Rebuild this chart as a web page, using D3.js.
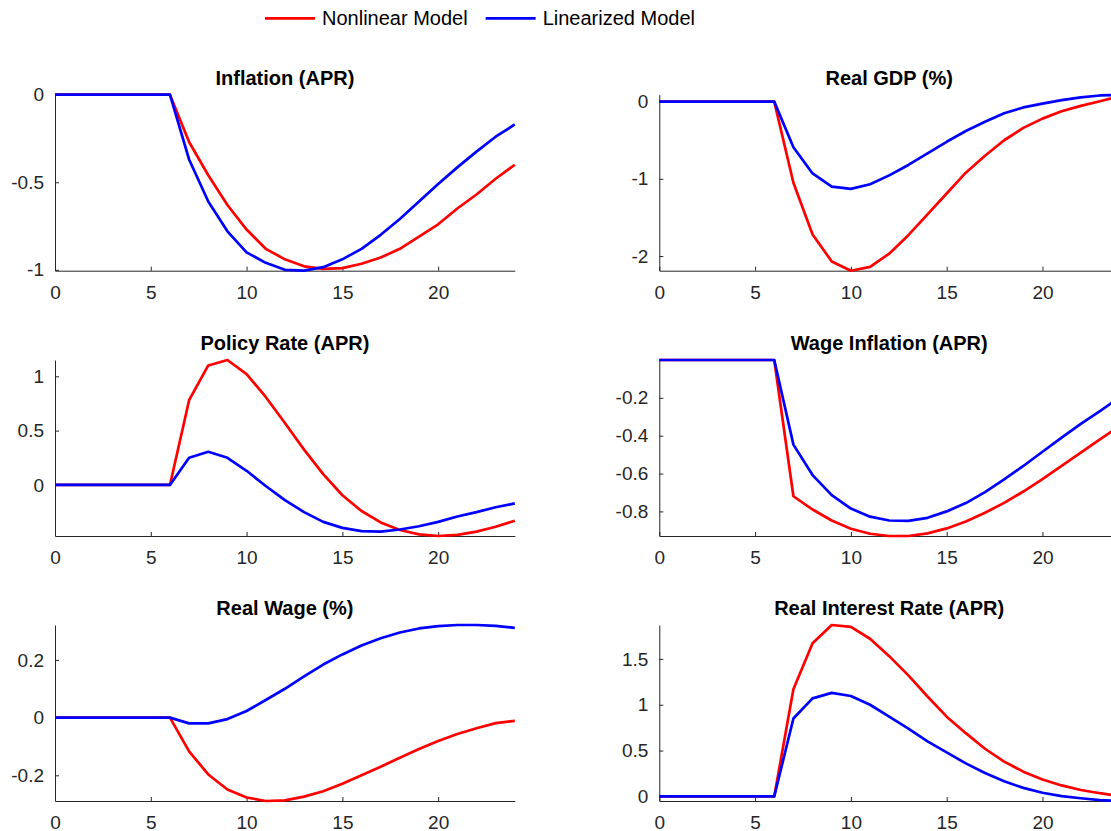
<!DOCTYPE html>
<html>
<head>
<meta charset="utf-8">
<title>Nonlinear vs Linearized Model</title>
<script src="https://cdn.jsdelivr.net/npm/d3@7"></script>
<style>
  html, body { margin: 0; padding: 0; background: #fff; overflow: hidden; }
  svg { display: block; font-family: "Liberation Sans", Arial, Helvetica, sans-serif; }
</style>
</head>
<body>
<svg id="chart" width="1111" height="831"></svg>
<script>
/* ---- data (periods 0..24) ---- */
var periods = [0, 1, 2, 3, 4, 5, 6, 7, 8, 9, 10, 11, 12, 13, 14, 15, 16, 17, 18, 19, 20, 21, 22, 23, 24];
var xTicks = [0, 5, 10, 15, 20];

var seriesNames = ['Nonlinear Model', 'Linearized Model'];
var seriesColors = ['#ff0000', '#0000ff'];

var panelTitles = ['Inflation (APR)', 'Real GDP (%)', 'Policy Rate (APR)',
                   'Wage Inflation (APR)', 'Real Wage (%)', 'Real Interest Rate (APR)'];

var inflationNonlinear = [0, 0, 0, 0, 0, 0, 0, -0.27, -0.46, -0.63, -0.77, -0.88, -0.94, -0.98, -0.995, -0.99, -0.965, -0.93, -0.88, -0.81, -0.74, -0.65, -0.57, -0.48, -0.40];
var inflationLinear    = [0, 0, 0, 0, 0, 0, 0, -0.37, -0.61, -0.78, -0.90, -0.96, -1.0, -1.005, -0.985, -0.94, -0.88, -0.80, -0.71, -0.61, -0.51, -0.415, -0.325, -0.24, -0.17];
var inflationTicks     = [-1, -0.5, 0];

var gdpNonlinear = [0, 0, 0, 0, 0, 0, 0, -1.05, -1.72, -2.07, -2.19, -2.14, -1.97, -1.73, -1.46, -1.19, -0.92, -0.70, -0.50, -0.34, -0.22, -0.125, -0.055, 0.005, 0.07];
var gdpLinear    = [0, 0, 0, 0, 0, 0, 0, -0.59, -0.93, -1.10, -1.13, -1.07, -0.955, -0.82, -0.67, -0.52, -0.38, -0.26, -0.15, -0.075, -0.025, 0.02, 0.055, 0.08, 0.09];
var gdpTicks     = [-2, -1, 0];

var policyNonlinear = [0, 0, 0, 0, 0, 0, 0, 0.78, 1.10, 1.15, 1.02, 0.81, 0.57, 0.325, 0.10, -0.095, -0.24, -0.345, -0.415, -0.455, -0.47, -0.46, -0.43, -0.385, -0.33];
var policyLinear    = [0, 0, 0, 0, 0, 0, 0, 0.25, 0.305, 0.25, 0.13, -0.01, -0.14, -0.25, -0.34, -0.395, -0.425, -0.43, -0.41, -0.38, -0.34, -0.29, -0.25, -0.205, -0.17];
var policyTicks     = [0, 0.5, 1];

var wageInflNonlinear = [0, 0, 0, 0, 0, 0, 0, -0.72, -0.79, -0.848, -0.892, -0.918, -0.93, -0.93, -0.916, -0.89, -0.853, -0.807, -0.755, -0.695, -0.63, -0.56, -0.49, -0.42, -0.35];
var wageInflLinear    = [0, 0, 0, 0, 0, 0, 0, -0.447, -0.608, -0.714, -0.785, -0.828, -0.848, -0.85, -0.834, -0.80, -0.756, -0.698, -0.631, -0.56, -0.485, -0.41, -0.338, -0.27, -0.20];
var wageInflTicks     = [-0.8, -0.6, -0.4, -0.2];

var realWageNonlinear = [0, 0, 0, 0, 0, 0, 0, -0.117, -0.197, -0.249, -0.277, -0.289, -0.287, -0.274, -0.255, -0.229, -0.20, -0.17, -0.139, -0.109, -0.081, -0.057, -0.037, -0.019, -0.011];
var realWageLinear    = [0, 0, 0, 0, 0, 0, 0, -0.02, -0.02, -0.005, 0.023, 0.061, 0.10, 0.143, 0.184, 0.219, 0.25, 0.275, 0.295, 0.309, 0.317, 0.321, 0.321, 0.318, 0.311];
var realWageTicks     = [-0.2, 0, 0.2];

var realRateNonlinear = [0, 0, 0, 0, 0, 0, 0, 1.17, 1.67, 1.87, 1.85, 1.72, 1.53, 1.32, 1.09, 0.87, 0.69, 0.52, 0.38, 0.27, 0.185, 0.12, 0.07, 0.035, 0.005];
var realRateLinear    = [0, 0, 0, 0, 0, 0, 0, 0.85, 1.07, 1.13, 1.095, 1.0, 0.87, 0.74, 0.60, 0.48, 0.36, 0.255, 0.165, 0.093, 0.04, 0.004, -0.02, -0.04, -0.05];
var realRateTicks     = [0, 0.5, 1, 1.5];

(function () {
  'use strict';

  var AXIS = '#262626';
  var colX = [55, 659.3];              // left edge of plot area per column
  var rowBottom = [270.7, 536, 801];   // x-axis position per row
  var plotW = 459.8, plotH = 176;

  var panels = [
    { title: panelTitles[0], series: [inflationNonlinear, inflationLinear], ticks: inflationTicks },
    { title: panelTitles[1], series: [gdpNonlinear, gdpLinear], ticks: gdpTicks },
    { title: panelTitles[2], series: [policyNonlinear, policyLinear], ticks: policyTicks },
    { title: panelTitles[3], series: [wageInflNonlinear, wageInflLinear], ticks: wageInflTicks },
    { title: panelTitles[4], series: [realWageNonlinear, realWageLinear], ticks: realWageTicks },
    { title: panelTitles[5], series: [realRateNonlinear, realRateLinear], ticks: realRateTicks }
  ];

  var svg = d3.select('#chart');

  panels.forEach(function (p, i) {
    var col = i % 2, row = Math.floor(i / 2);
    var left = colX[col], top = rowBottom[row] - plotH;

    // MATLAB "axis tight": limits = data extent
    var x = d3.scaleLinear().domain(d3.extent(periods)).range([0, plotW]);
    var y = d3.scaleLinear()
      .domain(d3.extent(p.series[0].concat(p.series[1])))
      .range([plotH, 0]);

    var g = svg.append('g').attr('transform', 'translate(' + left + ',' + top + ')');

    var xAxis = d3.axisBottom(x).tickValues(xTicks)
      .tickSizeInner(-4).tickSizeOuter(0).tickPadding(15)
      .tickFormat(function (d) { return String(d); });
    var yAxis = d3.axisLeft(y).tickValues(p.ticks)
      .tickSizeInner(-4).tickSizeOuter(0).tickPadding(11)
      .tickFormat(function (d) { return String(d); });

    var gx = g.append('g').attr('transform', 'translate(0,' + plotH + ')').call(xAxis);
    var gy = g.append('g').call(yAxis);

    [gx, gy].forEach(function (a) {
      a.select('.domain').attr('stroke', AXIS).attr('stroke-width', 1);
      a.selectAll('.tick line').attr('stroke', AXIS).attr('stroke-width', 1);
      a.selectAll('.tick text')
        .attr('fill', AXIS)
        .style('font-size', '19px')
        .style('font-family', '"Liberation Sans", Arial, Helvetica, sans-serif');
    });

    var line = d3.line()
      .x(function (d, k) { return x(periods[k]); })
      .y(function (d) { return y(d); });

    // nonlinear first, linearized drawn on top
    p.series.forEach(function (s, k) {
      g.append('path')
        .datum(s)
        .attr('fill', 'none')
        .attr('stroke', seriesColors[k])
        .attr('stroke-width', 2.7)
        .attr('stroke-linejoin', 'round')
        .attr('d', line);
    });

    g.append('text')
      .attr('x', plotW / 2)
      .attr('y', -10)
      .attr('text-anchor', 'middle')
      .attr('fill', '#000')
      .style('font-size', '20px')
      .style('font-weight', 'bold')
      .text(p.title);
  });

  /* Legend across the top */
  var lx = 265;
  seriesNames.forEach(function (name, k) {
    var item = svg.append('g');
    item.append('line')
      .attr('x1', lx).attr('x2', lx + 50)
      .attr('y1', 18.3).attr('y2', 18.3)
      .attr('stroke', seriesColors[k])
      .attr('stroke-width', 2.7);
    var t = item.append('text')
      .attr('x', lx + 57)
      .attr('y', 25)
      .attr('fill', '#000')
      .style('font-size', '20px')
      .text(name);
    lx = lx + 57 + t.node().getComputedTextLength() + 18;
  });
})();
</script>
</body>
</html>
